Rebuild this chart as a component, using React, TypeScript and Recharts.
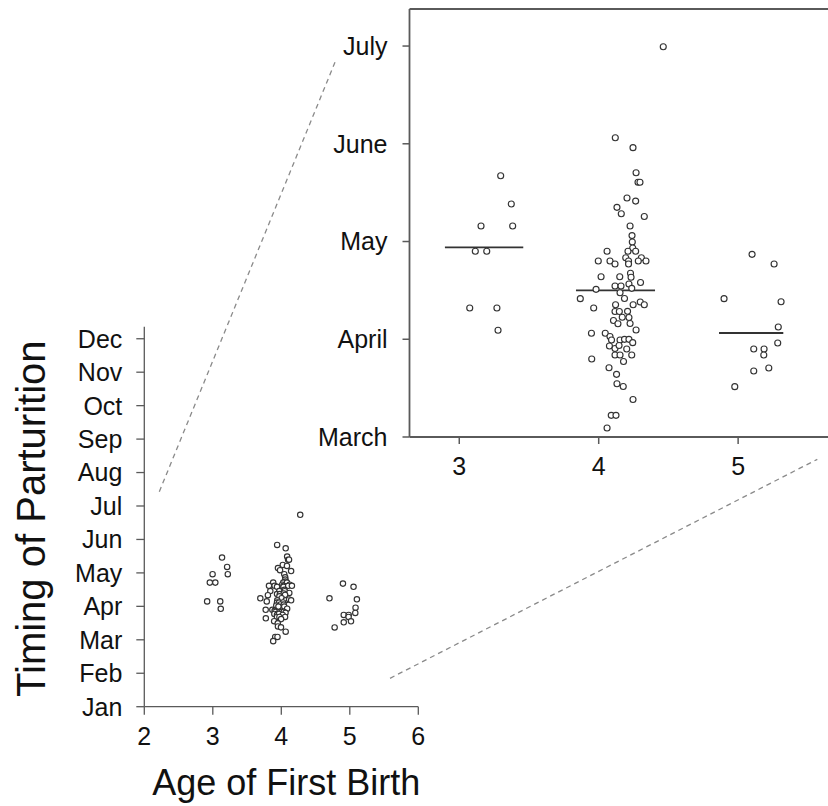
import React from 'react';
import { ScatterChart, Scatter, XAxis, YAxis, ReferenceLine } from 'recharts';

const FONT = '"Liberation Sans", Arial, Helvetica, sans-serif';
const INK = '#111';
const AXIS = '#5a5a5a';
const DOT = '#333';

// points: age (jittered), month (March = 3 ... July = 7)
const ageThree = [
  { age: 3.297, month: 5.673 }, { age: 3.373, month: 5.384 }, { age: 3.156, month: 5.159 },
  { age: 3.383, month: 5.159 }, { age: 3.115, month: 4.9 }, { age: 3.197, month: 4.9 },
  { age: 3.075, month: 4.32 }, { age: 3.27, month: 4.32 }, { age: 3.278, month: 4.092 },
];

const ageFour = [
  { age: 4.119, month: 6.062 }, { age: 4.246, month: 5.96 }, { age: 4.268, month: 5.704 },
  { age: 4.282, month: 5.606 }, { age: 4.296, month: 5.606 }, { age: 4.203, month: 5.445 },
  { age: 4.265, month: 5.414 }, { age: 4.131, month: 5.35 }, { age: 4.162, month: 5.284 },
  { age: 4.327, month: 5.256 }, { age: 4.225, month: 5.159 }, { age: 4.239, month: 5.061 },
  { age: 4.241, month: 4.995 }, { age: 4.244, month: 4.934 }, { age: 4.06, month: 4.9 },
  { age: 4.21, month: 4.9 }, { age: 4.265, month: 4.9 }, { age: 4.194, month: 4.834 },
  { age: 4.306, month: 4.834 }, { age: 3.997, month: 4.801 }, { age: 4.081, month: 4.801 },
  { age: 4.117, month: 4.77 }, { age: 4.214, month: 4.801 }, { age: 4.214, month: 4.77 },
  { age: 4.284, month: 4.801 }, { age: 4.339, month: 4.801 }, { age: 4.017, month: 4.64 },
  { age: 4.151, month: 4.64 }, { age: 4.228, month: 4.675 }, { age: 4.232, month: 4.634 },
  { age: 4.3, month: 4.581 }, { age: 3.981, month: 4.511 }, { age: 4.117, month: 4.545 },
  { age: 4.16, month: 4.545 }, { age: 4.217, month: 4.565 }, { age: 4.237, month: 4.521 },
  { age: 4.153, month: 4.476 }, { age: 4.185, month: 4.417 }, { age: 3.868, month: 4.415 },
  { age: 3.964, month: 4.32 }, { age: 4.121, month: 4.353 }, { age: 4.247, month: 4.353 },
  { age: 4.298, month: 4.381 }, { age: 4.327, month: 4.353 }, { age: 4.117, month: 4.284 },
  { age: 4.148, month: 4.284 }, { age: 4.207, month: 4.286 }, { age: 4.169, month: 4.225 },
  { age: 4.217, month: 4.223 }, { age: 4.106, month: 4.192 }, { age: 4.138, month: 4.159 },
  { age: 4.225, month: 4.161 }, { age: 4.268, month: 4.095 }, { age: 3.948, month: 4.061 },
  { age: 4.047, month: 4.061 }, { age: 4.081, month: 4.028 }, { age: 4.092, month: 3.992 },
  { age: 4.153, month: 3.992 }, { age: 4.185, month: 3.999 }, { age: 4.217, month: 3.999 },
  { age: 4.244, month: 3.965 }, { age: 4.077, month: 3.931 }, { age: 4.117, month: 3.905 },
  { age: 4.146, month: 3.936 }, { age: 4.201, month: 3.9 }, { age: 4.117, month: 3.839 },
  { age: 4.153, month: 3.839 }, { age: 4.237, month: 3.839 }, { age: 4.178, month: 3.772 },
  { age: 3.95, month: 3.798 }, { age: 4.074, month: 3.709 }, { age: 4.128, month: 3.641 },
  { age: 4.131, month: 3.545 }, { age: 4.176, month: 3.517 }, { age: 4.246, month: 3.384 },
  { age: 4.09, month: 3.222 }, { age: 4.124, month: 3.222 }, { age: 4.06, month: 3.092 },
  { age: 4.463, month: 6.993 },
];

const ageFive = [
  { age: 5.1, month: 4.869 }, { age: 5.258, month: 4.77 }, { age: 4.899, month: 4.415 },
  { age: 5.308, month: 4.384 }, { age: 5.288, month: 4.125 }, { age: 5.284, month: 3.962 },
  { age: 5.112, month: 3.9 }, { age: 5.186, month: 3.9 }, { age: 5.184, month: 3.839 },
  { age: 5.112, month: 3.675 }, { age: 5.22, month: 3.706 }, { age: 4.976, month: 3.515 },
];

// group averages drawn as short bars in the zoomed panel
const groupLines = [
  { from: 2.897, to: 3.459, month: 4.941 },
  { from: 3.837, to: 4.404, month: 4.501 },
  { from: 4.863, to: 5.324, month: 4.064 },
];

const mainAges = [2, 3, 4, 5, 6];
const monthsShort = ['Jan', 'Feb', 'Mar', 'Apr', 'May', 'Jun', 'Jul', 'Aug', 'Sep', 'Oct', 'Nov', 'Dec'];
const insetAges = [3, 4, 5];
const insetMonths = [3, 4, 5, 6, 7];
const monthsLong = ['March', 'April', 'May', 'June', 'July'];

// dashed guides, in the small panel's own units (age, month with Jan = 1)
const zoomGuides = [
  [{ age: 2.219, month: 7.428 }, { age: 4.784, month: 20.265 }],
  [{ age: 5.587, month: 1.849 }, { age: 11.825, month: 8.396 }],
];

// the small panel's axis sits a little off the zoomed panel's scale
const ageOnInset = (a: number) => (a + 0.093) / 0.979;
const monthOnInset = (m: number) => 1.0333 * m + 0.0333;

const tickStyle = { fill: INK, fontSize: 25, fontFamily: FONT };

const dot = (r: number) => (p: any) => (
  <circle cx={p.cx} cy={p.cy} r={r} fill="#fff" stroke={DOT} strokeWidth={1.15} />
);

const FullYear = () => (
  <ScatterChart width={828} height={806} margin={{ top: 326.7, right: 409.7, bottom: 49.3, left: 64.3 }}>
    <XAxis
      type="number"
      dataKey="age"
      domain={[ageOnInset(2), ageOnInset(6)]}
      ticks={mainAges.map(ageOnInset)}
      tickFormatter={(_v: number, i: number) => String(mainAges[i])}
      interval={0}
      height={50}
      tickSize={8}
      tickMargin={13}
      tick={tickStyle}
      axisLine={{ stroke: AXIS, strokeWidth: 1.3 }}
      tickLine={{ stroke: AXIS, strokeWidth: 1.3 }}
      label={({ viewBox }: any) => (
        <text
          x={viewBox.x + viewBox.width / 2 + 5}
          y={795}
          textAnchor="middle"
          fontSize={36}
          fontFamily={FONT}
          fill={INK}
        >
          Age of First Birth
        </text>
      )}
    />
    <YAxis
      type="number"
      dataKey="month"
      domain={[monthOnInset(1), monthOnInset(12.36)]}
      ticks={monthsShort.map((_m, i) => monthOnInset(i + 1))}
      tickFormatter={(_v: number, i: number) => monthsShort[i]}
      interval={0}
      width={80}
      tickSize={8}
      tickMargin={14}
      tick={tickStyle}
      axisLine={{ stroke: AXIS, strokeWidth: 1.3 }}
      tickLine={{ stroke: AXIS, strokeWidth: 1.3 }}
      label={({ viewBox }: any) => {
        const cy = viewBox.y + viewBox.height / 2 + 2;
        return (
          <text
            x={45}
            y={cy}
            transform={`rotate(-90 45 ${cy})`}
            textAnchor="middle"
            fontSize={40}
            fontFamily={FONT}
            fill={INK}
          >
            Timing of Parturition
          </text>
        );
      }}
    />
    {zoomGuides.map((g, i) => (
      <ReferenceLine
        key={i}
        segment={g.map((p) => ({ x: ageOnInset(p.age), y: monthOnInset(p.month) }))}
        ifOverflow="visible"
        stroke="#8a8a8a"
        strokeWidth={1.3}
        strokeDasharray="5 4"
      />
    ))}
    <Scatter data={ageThree} shape={dot(2.7)} isAnimationActive={false} />
    <Scatter data={ageFour} shape={dot(2.7)} isAnimationActive={false} />
    <Scatter data={ageFive} shape={dot(2.7)} isAnimationActive={false} />
  </ScatterChart>
);

const insetTop = 7.379;

const Zoomed = () => (
  <ScatterChart width={840} height={500} margin={{ top: 9, right: 3.3, bottom: 13, left: 319.5 }}>
    <XAxis
      type="number"
      dataKey="age"
      domain={[2.643, 5.707]}
      ticks={insetAges}
      interval={0}
      height={50}
      tickSize={7}
      tickMargin={13}
      tick={tickStyle}
      axisLine={{ stroke: AXIS, strokeWidth: 1.8 }}
      tickLine={{ stroke: AXIS, strokeWidth: 1.5 }}
    />
    <YAxis
      type="number"
      dataKey="month"
      domain={[3, insetTop]}
      ticks={insetMonths}
      tickFormatter={(_v: number, i: number) => monthsLong[i]}
      interval={0}
      width={90}
      tickSize={7}
      tickMargin={15}
      tick={tickStyle}
      axisLine={{ stroke: AXIS, strokeWidth: 1.8 }}
      tickLine={{ stroke: AXIS, strokeWidth: 1.5 }}
    />
    <ReferenceLine y={insetTop} stroke={AXIS} strokeWidth={1.8} />
    {groupLines.map((g, i) => (
      <ReferenceLine
        key={i}
        segment={[{ x: g.from, y: g.month }, { x: g.to, y: g.month }]}
        stroke="#333"
        strokeWidth={1.8}
      />
    ))}
    <Scatter data={ageThree} shape={dot(3)} isAnimationActive={false} />
    <Scatter data={ageFour} shape={dot(3)} isAnimationActive={false} />
    <Scatter data={ageFive} shape={dot(3)} isAnimationActive={false} />
  </ScatterChart>
);

export default function App() {
  return (
    <div
      style={{
        position: 'absolute',
        left: 0,
        top: 0,
        width: 828,
        height: 806,
        overflow: 'hidden',
        background: '#fff',
      }}
    >
      <div style={{ position: 'absolute', left: 0, top: 0 }}>
        <FullYear />
      </div>
      <div style={{ position: 'absolute', left: 0, top: 0 }}>
        <Zoomed />
      </div>
    </div>
  );
}
